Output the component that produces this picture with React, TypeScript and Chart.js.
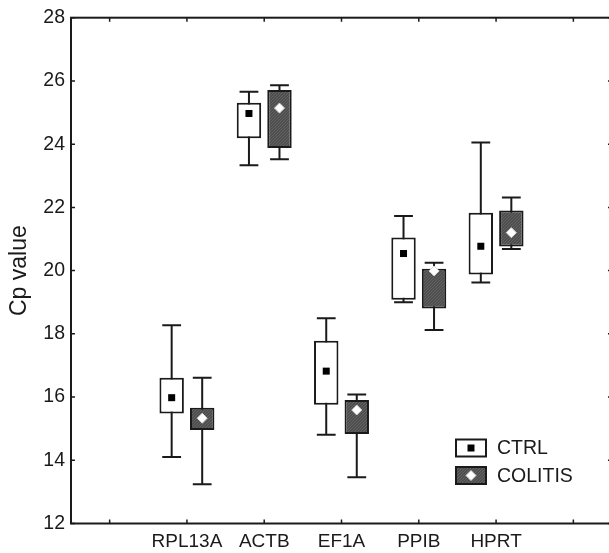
import React, { useEffect, useRef } from 'react';
import { Chart, registerables } from 'chart.js';

Chart.register(...registerables);

// ---- data ----
const categories = ['', 'RPL13A', 'ACTB', 'EF1A', 'PPIB', 'HPRT', ''];
const seriesNames = ['CTRL', 'COLITIS'];
const yTicks = [12, 14, 16, 18, 20, 22, 24, 26, 28];

const ctrlMin = [14.1, 23.33, 14.81, 19.0, 19.62];
const ctrlQ1 = [15.48, 24.19, 15.76, 19.08, 19.88];
const ctrlQ3 = [16.61, 25.31, 17.78, 21.05, 21.83];
const ctrlMax = [18.27, 25.66, 18.49, 21.73, 24.05];
const ctrlMid = [15.98, 24.97, 16.82, 20.54, 20.77];

const colMin = [13.24, 23.52, 13.46, 18.12, 20.68];
const colQ1 = [14.96, 23.88, 14.83, 18.8, 20.76];
const colQ3 = [15.66, 25.71, 15.91, 20.06, 21.9];
const colMax = [16.61, 25.86, 16.08, 20.25, 22.31];
const colMid = [15.33, 25.14, 15.59, 19.99, 21.2];

const pad = (a: number[]) => [null, ...a, null] as (number | null)[];

const stats = [
  { min: pad(ctrlMin), max: pad(ctrlMax), mid: pad(ctrlMid) },
  { min: pad(colMin), max: pad(colMax), mid: pad(colMid) },
];

const FONT = "'Liberation Sans', Arial, sans-serif";
const INK = '#1a1a1a';

function makeHatch(): CanvasPattern | string {
  const c = document.createElement('canvas');
  c.width = 3;
  c.height = 3;
  const g = c.getContext('2d');
  if (!g) return '#555';
  g.fillStyle = '#4e4e4e';
  g.fillRect(0, 0, 3, 3);
  g.fillStyle = '#636363';
  g.fillRect(2, 0, 1, 1);
  g.fillRect(1, 1, 1, 1);
  g.fillRect(0, 2, 1, 1);
  const p = g.createPattern(c, 'repeat');
  return p || '#555';
}

function drawMarker(ctx: CanvasRenderingContext2D, kind: number, x: number, y: number) {
  if (kind === 0) {
    ctx.fillStyle = '#000';
    ctx.fillRect(x - 3.5, y - 3.5, 7, 7);
  } else {
    ctx.fillStyle = '#fff';
    ctx.strokeStyle = '#d8d8d8';
    ctx.lineWidth = 1;
    ctx.beginPath();
    ctx.moveTo(x, y - 5);
    ctx.lineTo(x + 5, y);
    ctx.lineTo(x, y + 5);
    ctx.lineTo(x - 5, y);
    ctx.closePath();
    ctx.fill();
    ctx.stroke();
  }
}

export default function App() {
  const ref = useRef<HTMLCanvasElement | null>(null);

  useEffect(() => {
    document.body.style.margin = '0';
    document.body.style.overflow = 'hidden';
    const canvas = ref.current;
    if (!canvas) return;
    const hatch = makeHatch();

    const extras = {
      id: 'boxExtras',
      beforeDatasetsDraw(chart: any) {
        const ys = chart.scales.y;
        const ctx = chart.ctx as CanvasRenderingContext2D;
        ctx.save();
        ctx.strokeStyle = INK;
        ctx.lineWidth = 2;
        stats.forEach((s, di) => {
          const meta = chart.getDatasetMeta(di);
          meta.data.forEach((el: any, i: number) => {
            const lo = s.min[i];
            const hi = s.max[i];
            if (lo == null || hi == null) return;
            const x = el.x;
            const w = el.width * 0.77;
            const ylo = ys.getPixelForValue(lo);
            const yhi = ys.getPixelForValue(hi);
            ctx.beginPath();
            ctx.moveTo(x, ylo);
            ctx.lineTo(x, yhi);
            ctx.moveTo(x - w / 2, ylo);
            ctx.lineTo(x + w / 2, ylo);
            ctx.moveTo(x - w / 2, yhi);
            ctx.lineTo(x + w / 2, yhi);
            ctx.stroke();
          });
        });
        ctx.restore();
      },
      afterDatasetsDraw(chart: any) {
        const ys = chart.scales.y;
        const ctx = chart.ctx as CanvasRenderingContext2D;
        ctx.save();
        stats.forEach((s, di) => {
          const meta = chart.getDatasetMeta(di);
          meta.data.forEach((el: any, i: number) => {
            const m = s.mid[i];
            if (m == null) return;
            drawMarker(ctx, di, el.x, ys.getPixelForValue(m));
          });
        });
        ctx.restore();
      },
      afterDraw(chart: any) {
        const ctx = chart.ctx as CanvasRenderingContext2D;
        const a = chart.chartArea;
        const xs = chart.scales.x;
        const ys = chart.scales.y;
        ctx.save();
        ctx.strokeStyle = INK;
        ctx.lineWidth = 2;
        ctx.strokeRect(a.left, a.top, a.right - a.left, a.bottom - a.top);
        ctx.lineWidth = 1.5;
        ctx.beginPath();
        for (let i = 0; i < categories.length; i++) {
          const x = xs.getPixelForValue(i);
          ctx.moveTo(x, a.bottom);
          ctx.lineTo(x, a.bottom - 4);
          ctx.moveTo(x, a.top);
          ctx.lineTo(x, a.top + 4);
        }
        yTicks.forEach((v) => {
          const y = ys.getPixelForValue(v);
          ctx.moveTo(a.left, y);
          ctx.lineTo(a.left + 4, y);
          ctx.moveTo(a.right, y);
          ctx.lineTo(a.right - 4, y);
        });
        ctx.stroke();

        // legend
        const lx = 456;
        const rows = [448, 475.5];
        rows.forEach((cy, di) => {
          ctx.fillStyle = di === 0 ? '#fff' : (hatch as any);
          ctx.fillRect(lx, cy - 8.5, 30, 17);
          ctx.strokeStyle = INK;
          ctx.lineWidth = 2;
          ctx.strokeRect(lx, cy - 8.5, 30, 17);
          drawMarker(ctx, di, lx + 15, cy);
          ctx.fillStyle = INK;
          ctx.font = `19.5px ${FONT}`;
          ctx.textBaseline = 'middle';
          ctx.textAlign = 'left';
          ctx.fillText(seriesNames[di], lx + 41, cy + 1);
        });
        ctx.restore();
      },
    };

    const chart = new Chart(canvas, {
      type: 'bar',
      data: {
        labels: categories,
        datasets: [
          {
            label: seriesNames[0],
            data: categories.map((_, i) =>
              i === 0 || i === categories.length - 1 ? null : [ctrlQ1[i - 1], ctrlQ3[i - 1]]
            ) as any,
            backgroundColor: '#ffffff',
            borderColor: INK,
            borderWidth: 2,
            borderSkipped: false,
          },
          {
            label: seriesNames[1],
            data: categories.map((_, i) =>
              i === 0 || i === categories.length - 1 ? null : [colQ1[i - 1], colQ3[i - 1]]
            ) as any,
            backgroundColor: hatch as any,
            borderColor: INK,
            borderWidth: 2,
            borderSkipped: false,
          },
        ],
      },
      options: {
        responsive: false,
        animation: false,
        devicePixelRatio: 1,
        layout: { padding: { top: 15, right: 3, left: 0, bottom: 0 } },
        datasets: { bar: { barPercentage: 0.8, categoryPercentage: 0.79 } },
        plugins: { legend: { display: false }, tooltip: { enabled: false } },
        scales: {
          x: {
            grid: { display: false, drawTicks: false },
            border: { display: false },
            ticks: { color: INK, font: { size: 19, family: FONT }, padding: 7, maxRotation: 0, autoSkip: false },
            afterFit(s: any) {
              s.height = 29.5;
            },
          },
          y: {
            min: 12,
            max: 28,
            grid: { display: false, drawTicks: false },
            border: { display: false },
            ticks: { stepSize: 2, color: INK, font: { size: 19.5, family: FONT }, padding: 6 },
            title: {
              display: true,
              text: 'Cp value',
              color: INK,
              font: { size: 23, family: FONT },
              padding: { top: 6, bottom: 0 },
            },
            afterFit(s: any) {
              s.width = 71;
            },
          },
        },
      },
      plugins: [extras],
    });
    return () => chart.destroy();
  }, []);

  return (
    <div style={{ position: 'absolute', left: 0, top: 0, width: 615, height: 553, overflow: 'hidden' }}>
      <canvas ref={ref} width={615} height={553} style={{ display: 'block' }} />
    </div>
  );
}
